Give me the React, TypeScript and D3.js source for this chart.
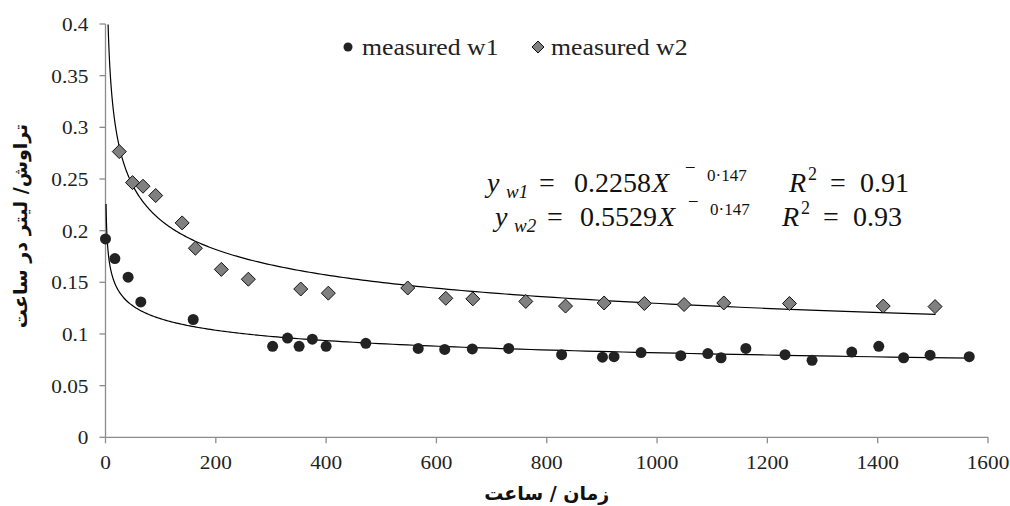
import React from 'react';
import * as d3 from 'd3';

// measured w1 (circles)
const w1Hours = [0, 17, 41, 64, 159, 303, 330, 351, 375, 400, 472, 567, 615, 665, 731, 827, 901, 922, 971, 1043, 1092, 1116, 1161, 1232, 1281, 1353, 1402, 1447, 1495, 1566];
const w1Rate = [0.192, 0.173, 0.155, 0.131, 0.114, 0.088, 0.096, 0.088, 0.095, 0.088, 0.091, 0.086, 0.085, 0.0855, 0.086, 0.08, 0.0775, 0.078, 0.082, 0.079, 0.081, 0.077, 0.086, 0.08, 0.0745, 0.0825, 0.088, 0.077, 0.0795, 0.078];

// measured w2 (diamonds)
const w2Hours = [25, 49, 68, 91, 139, 163, 210, 259, 354, 404, 548, 617, 666, 762, 834, 904, 977, 1049, 1121, 1240, 1410, 1504];
const w2Rate = [0.2765, 0.2465, 0.243, 0.234, 0.2075, 0.183, 0.1625, 0.153, 0.1435, 0.1395, 0.1445, 0.1345, 0.134, 0.1315, 0.127, 0.130, 0.1295, 0.1285, 0.130, 0.1295, 0.127, 0.1265];

// power trendlines y = a * x^-b
const trend1 = { a: 0.2258, b: 0.147, from: 1, to: 1570 };
const trend2 = { a: 0.5529, b: 0.21, from: 4.7, to: 1505 };

const xTicks = [0, 200, 400, 600, 800, 1000, 1200, 1400, 1600];
const yTicks = [0, 0.05, 0.1, 0.15, 0.2, 0.25, 0.3, 0.35, 0.4];

const WIDTH = 1010;
const HEIGHT = 506;
const AXIS = '#8c8c8c';
const SERIF = "'Liberation Serif', 'Times New Roman', serif";
const ARABIC = "'DejaVu Sans', sans-serif";

export default function App() {
  const x = d3.scaleLinear().domain([0, 1600]).range([105.5, 988]);
  const y = d3.scaleLinear().domain([0, 0.4]).range([437.3, 24]);

  const line = d3
    .line<number[]>()
    .x(d => x(d[0]))
    .y(d => y(d[1]));

  const trendPath = (t: typeof trend1) => {
    const n = 300;
    const pts = d3.range(n + 1).map(i => {
      const xv = t.from * Math.pow(t.to / t.from, i / n);
      return [xv, Math.min(0.4, t.a * Math.pow(xv, -t.b))];
    });
    return line(pts) || '';
  };

  const diamond = (cx: number, cy: number, s: number) =>
    `M${cx},${cy - s}L${cx + s},${cy}L${cx},${cy + s}L${cx - s},${cy}Z`;

  const serif = { fontFamily: SERIF };

  return (
    <div style={{ position: 'absolute', left: 0, top: 0 }}>
      <svg width={WIDTH} height={HEIGHT} viewBox={`0 0 ${WIDTH} ${HEIGHT}`} style={{ display: 'block', background: '#fff' }}>
        {/* y axis */}
        <g>
          <line x1={x(0)} x2={x(0)} y1={y(0.4)} y2={y(0)} stroke={AXIS} strokeWidth={1.3} />
          {yTicks.map((t, i) => (
            <g key={i}>
              <line x1={x(0) - 6} x2={x(0)} y1={y(t)} y2={y(t)} stroke={AXIS} strokeWidth={1.3} />
              <text
                transform={`translate(${x(0) - 17},${y(t) + 7}) scale(1.12,1)`}
                textAnchor="end"
                style={serif}
                fontSize={19}
                fill="#222"
              >
                {String(+t.toFixed(2))}
              </text>
            </g>
          ))}
        </g>

        {/* x axis */}
        <g>
          <line x1={x(0)} x2={x(1600)} y1={y(0)} y2={y(0)} stroke={AXIS} strokeWidth={1.3} />
          {xTicks.map((t, i) => (
            <g key={i}>
              <line x1={x(t)} x2={x(t)} y1={y(0)} y2={y(0) + 6} stroke={AXIS} strokeWidth={1.3} />
              <text
                transform={`translate(${x(t)},${y(0) + 32}) scale(1.12,1)`}
                textAnchor="middle"
                style={serif}
                fontSize={19}
                fill="#222"
              >
                {t}
              </text>
            </g>
          ))}
        </g>

        {/* axis titles */}
        <text x={x(800)} y={500} textAnchor="middle" style={{ fontFamily: ARABIC }} fontWeight="bold" fontSize={19} fill="#111">
          زمان / ساعت
        </text>
        <text
          transform={`translate(27,226) rotate(-90)`}
          textAnchor="middle"
          style={{ fontFamily: ARABIC }}
          fontWeight="bold"
          fontSize={19}
          fill="#111"
        >
          تراوش/ لیتر در ساعت
        </text>

        {/* trendlines */}
        <path d={trendPath(trend2)} fill="none" stroke="#000" strokeWidth={1.2} />
        <path d={trendPath(trend1)} fill="none" stroke="#000" strokeWidth={1.2} />

        {/* points */}
        {w2Hours.map((h, i) => (
          <path key={'d' + i} d={diamond(x(h), y(w2Rate[i]), 7)} fill="#808080" stroke="#111" strokeWidth={1} />
        ))}
        {w1Hours.map((h, i) => (
          <circle key={'c' + i} cx={x(h)} cy={y(w1Rate[i])} r={5.5} fill="#222" />
        ))}

        {/* legend */}
        <circle cx={348} cy={47} r={4.5} fill="#222" />
        <text transform="translate(362,55) scale(1.12,1)" style={serif} fontSize={23} fill="#222">
          measured w1
        </text>
        <path d={diamond(538, 47, 6)} fill="#808080" stroke="#111" strokeWidth={1} />
        <text transform="translate(551,55) scale(1.12,1)" style={serif} fontSize={23} fill="#222">
          measured w2
        </text>

        {/* equations */}
        <g style={serif} fill="#111">
          <text x={487} y={192} fontSize={28} fontStyle="italic">y</text>
          <text x={506} y={198} fontSize={19} fontStyle="italic">w1</text>
          <text x={539} y={192} fontSize={28}>=</text>
          <text x={574} y={192} fontSize={28}>0.2258</text>
          <text x={652} y={192} fontSize={28} fontStyle="italic">X</text>
          <text x={686} y={180} fontSize={17}>¯</text>
          <text x={707} y={181} fontSize={17}>0·147</text>
          <text x={789} y={192} fontSize={28} fontStyle="italic">R</text>
          <text x={808} y={180} fontSize={18}>2</text>
          <text x={830} y={192} fontSize={28}>=</text>
          <text x={860} y={192} fontSize={28}>0.91</text>

          <text x={495} y={226} fontSize={28} fontStyle="italic">y</text>
          <text x={514} y={232} fontSize={19} fontStyle="italic">w2</text>
          <text x={547} y={226} fontSize={28}>=</text>
          <text x={580} y={226} fontSize={28}>0.5529</text>
          <text x={658} y={226} fontSize={28} fontStyle="italic">X</text>
          <text x={689} y={214} fontSize={17}>¯</text>
          <text x={710} y={215} fontSize={17}>0·147</text>
          <text x={782} y={226} fontSize={28} fontStyle="italic">R</text>
          <text x={801} y={214} fontSize={18}>2</text>
          <text x={823} y={226} fontSize={28}>=</text>
          <text x={853} y={226} fontSize={28}>0.93</text>
        </g>
      </svg>
    </div>
  );
}
